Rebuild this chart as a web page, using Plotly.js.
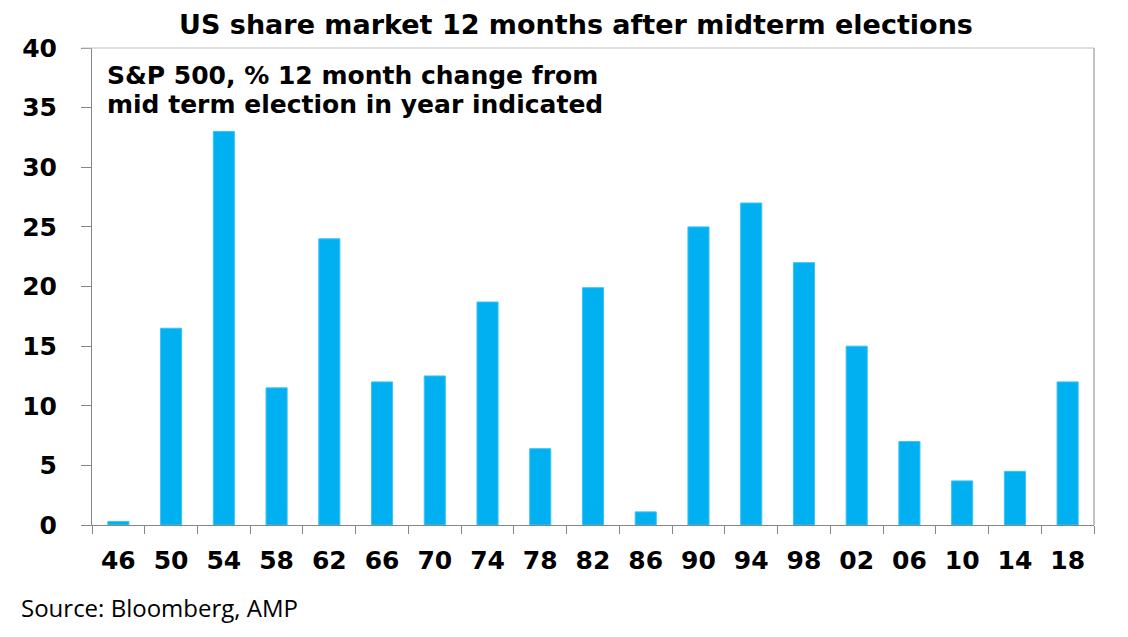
<!DOCTYPE html>
<html>
<head>
<meta charset="utf-8">
<script src="https://cdn.plot.ly/plotly-3.0.1.min.js"></script>
<style>html,body{margin:0;padding:0;background:#fff;}#chart{width:1128px;height:637px;}</style>
</head>
<body>
<div id="chart"></div>
<script>
const years = ["46","50","54","58","62","66","70","74","78","82","86","90","94","98","02","06","10","14","18"];
const changes = [0.3,16.5,33,11.5,24,12,12.5,18.7,6.4,19.9,1.1,25,27,22,15,7,3.7,4.5,12];
const yTicks = [0,5,10,15,20,25,30,35,40];
const chartTitle = "US share market 12 months after midterm elections";
const noteLine1 = "S&P 500, % 12 month change from";
const noteLine2 = "mid term election in year indicated";
const sourceText = "Source: Bloomberg, AMP";

const boldFont = 'DejaVu Sans, Liberation Sans, Arial, sans-serif';

const trace = {
  type: 'bar',
  x: years,
  y: changes,
  marker: {color: '#00b0f0', line: {color: '#3cc3f5', width: 1}},
  hoverinfo: 'x+y'
};

const layout = {
  width: 1128, height: 637,
  margin: {l: 92, r: 34, t: 48, b: 112},
  paper_bgcolor: '#ffffff', plot_bgcolor: '#ffffff',
  showlegend: false,
  bargap: 0.6,
  font: {family: boldFont, color: '#000000'},
  title: {
    text: '<b>' + chartTitle + '</b>',
    font: {family: boldFont, size: 27, color: '#000'},
    x: 576 / 1128, xanchor: 'center', xref: 'container',
    y: 1 - 25/637, yanchor: 'middle', yref: 'container'
  },
  xaxis: {
    type: 'category',
    tickson: 'boundaries',
    ticks: 'outside', ticklen: 8, tickcolor: '#868686', tickwidth: 1,
    showline: true, linecolor: '#868686', linewidth: 1,
    showgrid: false, zeroline: false,
    tickfont: {family: boldFont, size: 25, color: '#000', weight: 'bold'},
    ticklabelstandoff: 13
  },
  yaxis: {
    range: [0, 40],
    tickvals: yTicks,
    ticktext: yTicks.map(String),
    ticks: 'outside', ticklen: 10, tickcolor: '#868686', tickwidth: 1,
    showline: true, linecolor: '#868686', linewidth: 1,
    showgrid: false, zeroline: false,
    tickfont: {family: boldFont, size: 25, color: '#000', weight: 'bold'},
    ticklabelstandoff: 19
  },
  shapes: [
    {type: 'line', xref: 'paper', yref: 'paper', x0: -0.01, x1: 1, y0: 1, y1: 1,
     line: {color: '#bfbfbf', width: 1}},
    {type: 'line', xref: 'paper', yref: 'paper', x0: 1, x1: 1, y0: 0, y1: 1,
     line: {color: '#868686', width: 1}}
  ],
  annotations: [
    {
      text: '<b>' + noteLine1 + '</b>',
      xref: 'paper', yref: 'paper', x: 0.013, y: (525 - 75) / 477,
      xanchor: 'left', yanchor: 'middle', align: 'left', showarrow: false,
      font: {family: boldFont, size: 25, color: '#000'}
    },
    {
      text: '<b>' + noteLine2 + '</b>',
      xref: 'paper', yref: 'paper', x: 0.013, y: (525 - 104) / 477,
      xanchor: 'left', yanchor: 'middle', align: 'left', showarrow: false,
      font: {family: boldFont, size: 25, color: '#000'}
    },
    {
      text: sourceText,
      xref: 'paper', yref: 'paper', x: -73/1002, y: -82/477,
      xanchor: 'left', yanchor: 'middle', align: 'left', showarrow: false,
      font: {family: 'Open Sans, sans-serif', size: 24, color: '#000'}
    }
  ]
};

Plotly.newPlot('chart', [trace], layout, {displayModeBar: false, responsive: false});
</script>
</body>
</html>
